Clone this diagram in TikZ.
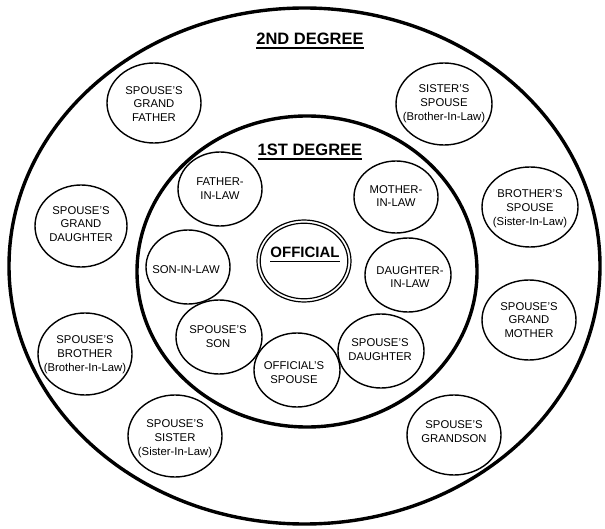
\documentclass[tikz,border=0pt]{standalone}
\usepackage{fontspec}
\setmainfont{Liberation Sans}
\begin{document}
\begin{tikzpicture}[x=1pt,y=-1pt,
  ring/.style={line width=3.4pt},
  bub/.style={line width=1.4pt},
  lbl/.style={align=center,inner sep=0pt,font=\fontsize{11.3}{13.8}\selectfont},
  ttl/.style={inner sep=0pt,font=\fontsize{16.5}{19}\selectfont\bfseries},
  uline/.style={line width=2pt}]
\useasboundingbox (0,0) rectangle (605,529);
% degree rings
\draw[ring] (304.5,266) ellipse [x radius=295.5pt, y radius=258pt];
\draw[ring] (307,271.5) ellipse [x radius=170pt, y radius=155.5pt];
% titles
\node[ttl,anchor=base] (t2) at (310,45) {2ND DEGREE};
\draw[uline] ([yshift=-3.5pt]t2.base west) -- ([yshift=-3.5pt]t2.base east);
\node[ttl,anchor=base] (t1) at (310,156) {1ST DEGREE};
\draw[uline] ([yshift=-3.5pt]t1.base west) -- ([yshift=-3.5pt]t1.base east);
% official
\node[ttl,anchor=base,font=\fontsize{15}{18}\selectfont\bfseries] (off) at (305,258) {OFFICIAL};
\draw[uline,line width=1.6pt] ([yshift=-3.5pt]off.base west) -- ([yshift=-3.5pt]off.base east);
\coordinate (offc) at (304,261);
\draw[line width=1.2pt] (offc) ellipse [x radius=47pt, y radius=41pt];
\draw[line width=1.2pt] (offc) ellipse [x radius=43.8pt, y radius=37.8pt];
% second degree bubbles
\node[lbl] (gf) at (154,104) {SPOUSE'S\\GRAND\\FATHER};
\draw[bub] (154,103) ellipse [x radius=47pt, y radius=40pt];
\node[lbl] (ss) at (444,104) {SISTER'S\\SPOUSE\\(Brother-In-Law)};
\draw[bub] (444,104) ellipse [x radius=48pt, y radius=41pt];
\node[lbl] (bs) at (530,209) {BROTHER'S\\SPOUSE\\(Sister-In-Law)};
\draw[bub] (530,207) ellipse [x radius=48pt, y radius=40pt];
\node[lbl] (gd) at (81,224) {SPOUSE'S\\GRAND\\DAUGHTER};
\draw[bub] (81,226) ellipse [x radius=46pt, y radius=41pt];
\node[lbl] (sb) at (85,355) {SPOUSE'S\\BROTHER\\(Brother-In-Law)};
\draw[bub] (85,354) ellipse [x radius=47pt, y radius=41pt];
\node[lbl] (gm) at (529,320) {SPOUSE'S\\GRAND\\MOTHER};
\draw[bub] (529,320) ellipse [x radius=47pt, y radius=40pt];
\node[lbl] (sis) at (175,439) {SPOUSE'S\\SISTER\\(Sister-In-Law)};
\draw[bub] (175,436) ellipse [x radius=47pt, y radius=41pt];
\node[lbl] (gs) at (454,432) {SPOUSE'S\\GRANDSON};
\draw[bub] (454,435) ellipse [x radius=47pt, y radius=40pt];
% first degree bubbles
\node[lbl] (fil) at (220,189) {FATHER-\\IN-LAW};
\draw[bub] (220,189) ellipse [x radius=42pt, y radius=37pt];
\node[lbl] (mil) at (396,196) {MOTHER-\\IN-LAW};
\draw[bub] (396,197) ellipse [x radius=42pt, y radius=36pt];
\node[lbl] (sil) at (186,270) {SON-IN-LAW};
\draw[bub] (188,267) ellipse [x radius=42pt, y radius=37pt];
\node[lbl] (dil) at (410,277) {DAUGHTER-\\IN-LAW};
\draw[bub] (408,275) ellipse [x radius=43pt, y radius=37pt];
\node[lbl] (sson) at (218,337) {SPOUSE'S\\SON};
\draw[bub] (219,337) ellipse [x radius=43pt, y radius=37pt];
\node[lbl] (sd) at (380,350) {SPOUSE'S\\DAUGHTER};
\draw[bub] (381,351) ellipse [x radius=43pt, y radius=37pt];
\node[lbl] (osp) at (294,373) {OFFICIAL'S\\SPOUSE};
\draw[bub] (297,370) ellipse [x radius=43pt, y radius=37pt];
\end{tikzpicture}
\end{document}
